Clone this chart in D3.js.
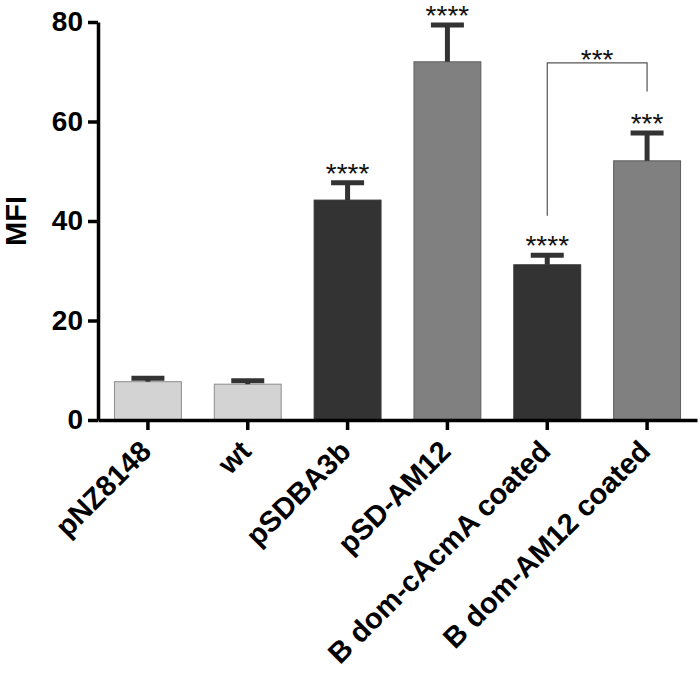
<!DOCTYPE html>
<html>
<head>
<meta charset="utf-8">
<script src="https://cdn.jsdelivr.net/npm/d3@7"></script>
<style>
  html, body { margin: 0; padding: 0; background: #fff; }
  svg { display: block; font-family: "Liberation Sans", Arial, Helvetica, sans-serif; }
</style>
</head>
<body>
<svg id="chart" width="700" height="676"></svg>
<script>
// ---- data ----
const categories = ["pNZ8148", "wt", "pSDBA3b", "pSD-AM12", "B dom-cAcmA coated", "B dom-AM12 coated"];
const means      = [7.7, 7.2, 44.2, 72.0, 31.2, 52.1];
const errors     = [0.7, 0.7, 3.5, 7.4, 1.9, 5.6];
const groups     = ["control", "control", "dark", "mid", "dark", "mid"];
const stars      = ["", "", "****", "****", "****", "***"];
const yTicks     = [0, 20, 40, 60, 80];
const brackets   = [{ from: 4, to: 5, y: 71.8, label: "***" }];
const yLabel     = "MFI";

const fills   = { control: "#d3d3d3", dark: "#333333", mid: "#808080" };
const strokes = { control: "#8c8c8c", dark: "#333333", mid: "#5e5e5e" };

// ---- layout ----
const svg = d3.select("#chart");
const x = d3.scaleBand().domain(categories).range([98, 697]).paddingInner(0.33).paddingOuter(0.165);
const y = d3.scaleLinear().domain([0, 80]).range([420, 22]);

const data = categories.map((c, i) => ({ c, i, m: means[i], e: errors[i], g: groups[i], s: stars[i] }));

// bars
svg.append("g").selectAll("rect").data(data).join("rect")
  .attr("x", d => x(d.c))
  .attr("y", d => y(d.m))
  .attr("width", x.bandwidth())
  .attr("height", d => y(0) - y(d.m))
  .attr("fill", d => fills[d.g])
  .attr("stroke", d => strokes[d.g])
  .attr("stroke-width", 1);

// error bars (upper only)
const capW = 33;
const eg = svg.append("g").attr("stroke", "#333333").attr("stroke-width", 5);
eg.selectAll("line.stem").data(data).join("line")
  .attr("class", "stem")
  .attr("x1", d => x(d.c) + x.bandwidth() / 2)
  .attr("x2", d => x(d.c) + x.bandwidth() / 2)
  .attr("y1", d => y(d.m))
  .attr("y2", d => y(d.m + d.e));
eg.selectAll("line.cap").data(data).join("line")
  .attr("class", "cap")
  .attr("x1", d => x(d.c) + x.bandwidth() / 2 - capW / 2)
  .attr("x2", d => x(d.c) + x.bandwidth() / 2 + capW / 2)
  .attr("y1", d => y(d.m + d.e))
  .attr("y2", d => y(d.m + d.e));

// significance stars
const starOffset = 17.5;
svg.append("g").selectAll("text").data(data.filter(d => d.s)).join("text")
  .attr("x", d => x(d.c) + x.bandwidth() / 2)
  .attr("y", d => y(d.m + d.e) - starOffset)
  .attr("dy", "0.62em")
  .attr("text-anchor", "middle")
  .attr("font-size", 28)
  .attr("fill", "#111")
  .text(d => d.s);

// brackets
brackets.forEach(b => {
  const x1 = x(categories[b.from]) + x.bandwidth() / 2;
  const x2 = x(categories[b.to]) + x.bandwidth() / 2;
  const yb = y(b.y);
  const yl = y(means[b.from] + errors[b.from]) - starOffset - 22;
  const yr = y(means[b.to] + errors[b.to]) - starOffset - 24;
  svg.append("path")
    .attr("d", `M${x1},${yl}V${yb}H${x2}V${yr}`)
    .attr("fill", "none")
    .attr("stroke", "#555")
    .attr("stroke-width", 1.2);
  svg.append("text")
    .attr("x", (x1 + x2) / 2)
    .attr("y", yb - 11)
    .attr("dy", "0.62em")
    .attr("text-anchor", "middle")
    .attr("font-size", 28)
    .attr("fill", "#111")
    .text(b.label);
});

// axes
const yAxis = svg.append("g").attr("transform", "translate(98,0)")
  .call(d3.axisLeft(y).tickValues(yTicks).tickSize(10).tickSizeOuter(0).tickPadding(5));
const xAxis = svg.append("g").attr("transform", "translate(0,420)")
  .call(d3.axisBottom(x).tickSize(10).tickSizeOuter(0));

[yAxis, xAxis].forEach(a => {
  a.select(".domain").attr("stroke", "#000").attr("stroke-width", 3.5);
  a.selectAll(".tick line").attr("stroke", "#000").attr("stroke-width", 3.5);
});
yAxis.selectAll("text").attr("font-size", 28).attr("font-weight", "bold").attr("fill", "#000")
  .attr("font-family", "'Liberation Sans', Arial, sans-serif");
xAxis.selectAll("text")
  .attr("font-size", 29).attr("font-weight", "bold").attr("fill", "#000")
  .attr("font-family", "'Liberation Sans', Arial, sans-serif")
  .attr("text-anchor", "end")
  .attr("dy", 0)
  .attr("transform", "translate(5,33) rotate(-45)")
  .attr("y", 0).attr("x", 0);

// y label
svg.append("text")
  .attr("transform", `translate(26,${(y(0) + y(80)) / 2}) rotate(-90)`)
  .attr("text-anchor", "middle")
  .attr("font-size", 29)
  .attr("font-weight", "bold")
  .attr("fill", "#000")
  .text(yLabel);
</script>
</body>
</html>
